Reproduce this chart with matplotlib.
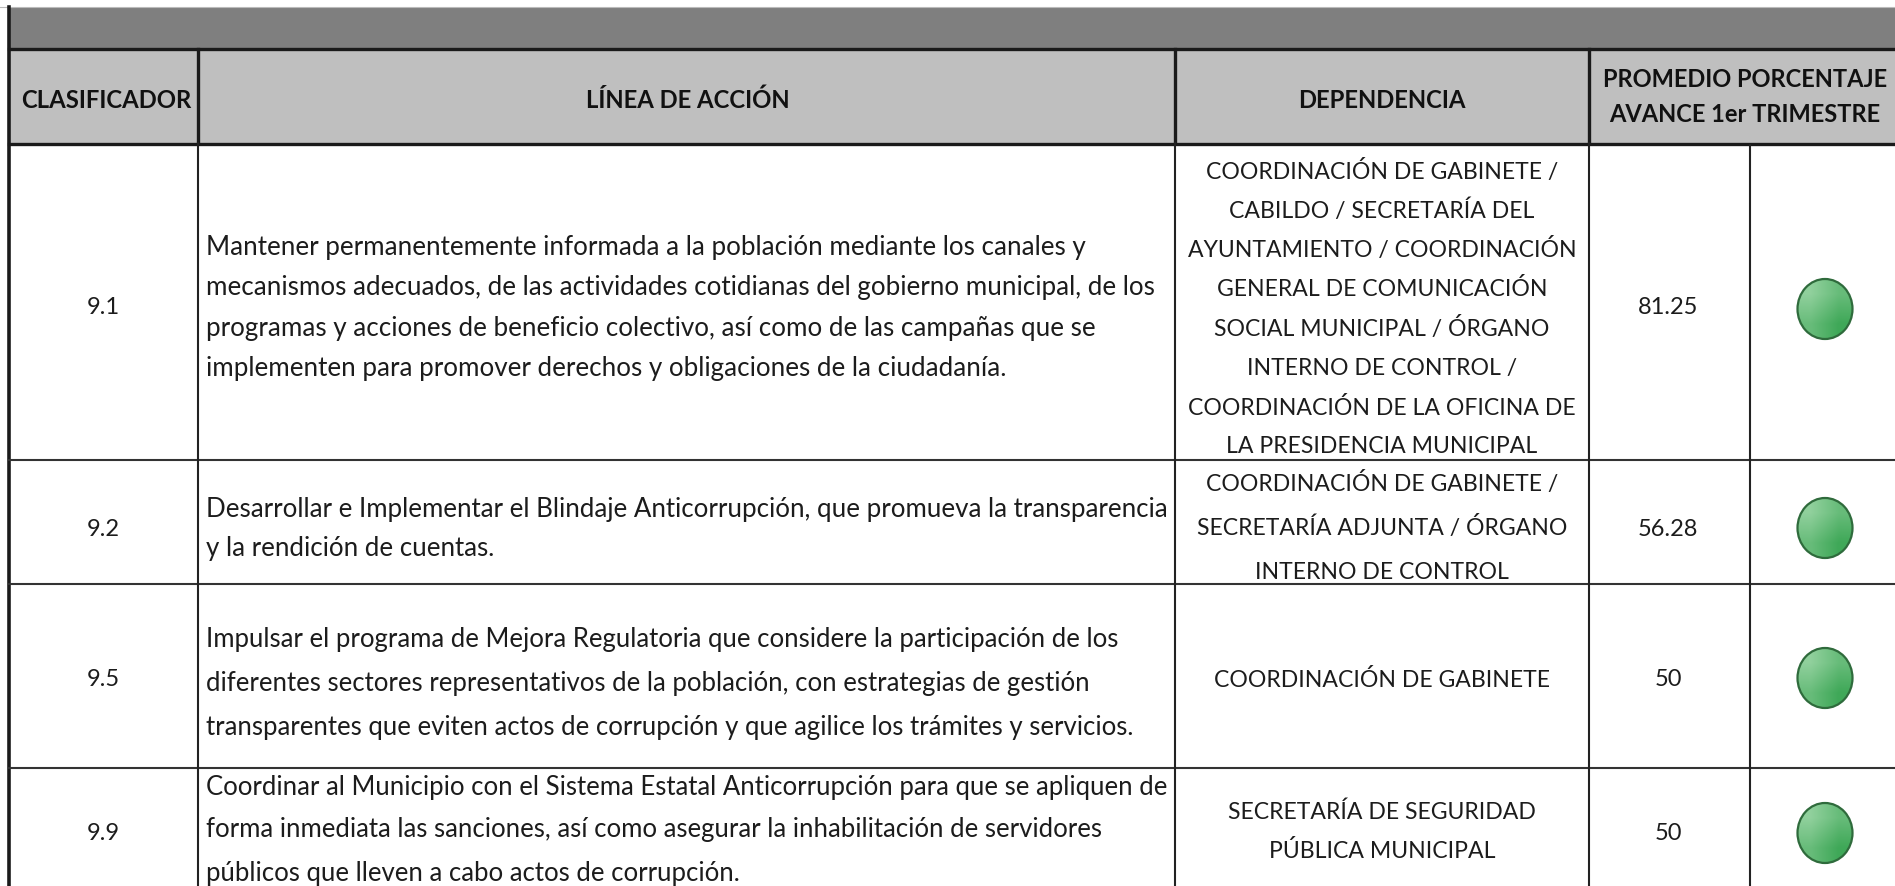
#!/usr/bin/env python3
import numpy as np
import matplotlib
matplotlib.use('Agg')
import matplotlib.pyplot as plt
from matplotlib.patches import Ellipse, Rectangle

plt.rcParams['font.family'] = ['Lato', 'DejaVu Sans']

headers = ['CLASIFICADOR', 'LÍNEA DE ACCIÓN', 'DEPENDENCIA',
           'PROMEDIO PORCENTAJE\nAVANCE 1er TRIMESTRE']
clasificador = ['9.1', '9.2', '9.5', '9.9']
promedio = ['81.25', '56.28', '50', '50']
lineas = [
    ['Mantener permanentemente informada a la población mediante los canales y',
     'mecanismos adecuados, de las actividades cotidianas del gobierno municipal, de los',
     'programas y acciones de beneficio colectivo, así como de las campañas que se',
     'implementen para promover derechos y obligaciones de la ciudadanía.'],
    ['Desarrollar e Implementar el Blindaje Anticorrupción, que promueva la transparencia',
     'y la rendición de cuentas.'],
    ['Impulsar el programa de Mejora Regulatoria que considere la participación de los',
     'diferentes sectores representativos de la población, con estrategias de gestión',
     'transparentes que eviten actos de corrupción y que agilice los trámites y servicios.'],
    ['Coordinar al Municipio con el Sistema Estatal Anticorrupción para que se apliquen de',
     'forma inmediata las sanciones, así como asegurar la inhabilitación de servidores',
     'públicos que lleven a cabo actos de corrupción.'],
]
dependencias = [
    ['COORDINACIÓN DE GABINETE /', 'CABILDO / SECRETARÍA DEL',
     'AYUNTAMIENTO / COORDINACIÓN', 'GENERAL DE COMUNICACIÓN',
     'SOCIAL MUNICIPAL / ÓRGANO', 'INTERNO DE CONTROL /',
     'COORDINACIÓN DE LA OFICINA DE', 'LA PRESIDENCIA MUNICIPAL'],
    ['COORDINACIÓN DE GABINETE /', 'SECRETARÍA ADJUNTA / ÓRGANO',
     'INTERNO DE CONTROL'],
    ['COORDINACIÓN DE GABINETE'],
    ['SECRETARÍA DE SEGURIDAD', 'PÚBLICA MUNICIPAL'],
]

# layout in pixels of the original screenshot
W, H = 1895, 886
col_x = [9, 198, 1175, 1589, 1750, 1895]
row_y = [144, 460, 584, 768, 886]
num_mid = [308, 530, 680, 833]
lin_mid = [308, 529, 683, 830]
lin_step = [40.5, 39, 44, 43]
dep_mid = [309, 528, 680, 832]
dep_step = [39.4, 44.7, 0, 39]
dot_y = [309, 528, 678, 833]
FS_LIN = [18.7, 18.6, 18.5, 18.5]
FS_DEP = 16.6
FS_NUM = 17.0
FS_HEAD = 17.2
TXT = '#1c1c1c'

fig = plt.figure(figsize=(W / 100, H / 100), dpi=100)
ax = fig.add_axes([0, 0, 1, 1])
ax.set_xlim(0, W)
ax.set_ylim(H, 0)
ax.axis('off')

# title band and header band
ax.add_patch(Rectangle((9, 7), W - 9, 41, fc='#7f7f7f', ec='none'))
ax.add_patch(Rectangle((9, 49), W - 9, 95, fc='#bfbfbf', ec='none'))

# lines
lc = '#1a1a1a'
ax.plot([0, W], [6.5, 6.5], color='#bbbbbb', lw=0.8)
ax.plot([9, 9], [7, H], color=lc, lw=2.6)
ax.plot([9, W], [48.5, 48.5], color=lc, lw=2.4)
ax.plot([9, W], [143.5, 143.5], color=lc, lw=2.4)
for y in row_y[1:-1]:
    ax.plot([9, W], [y, y], color='#333333', lw=1.5)
for x in col_x[1:4]:
    ax.plot([x, x], [49, 143], color=lc, lw=2.4)
    ax.plot([x, x], [143, H], color='#222222', lw=1.5)
ax.plot([1750, 1750], [145, H], color='#222222', lw=1.5)

# header text
hy = 100
for x, label in zip([106, 688, 1382], headers[:3]):
    ax.text(x, hy, label, ha='center', va='center',
            fontsize=FS_HEAD, fontweight='bold', color='#111111')
for i, line in enumerate(headers[3].split('\n')):
    ax.text(1745, 79 + i * 35, line, ha='center', va='center',
            fontsize=FS_HEAD - 0.2, fontweight='bold', color='#111111')

# gradient for the status dots
grad = np.array([[0.0, 0.5], [0.5, 1.0]])
cmap = matplotlib.colors.LinearSegmentedColormap.from_list('dot', ['#90d09c', '#3fa858'])

for i in range(4):
    ax.text(103, num_mid[i], clasificador[i], ha='center', va='center',
            fontsize=FS_NUM, color=TXT)
    n = len(lineas[i])
    for j, line in enumerate(lineas[i]):
        ax.text(206, lin_mid[i] + (j - (n - 1) / 2) * lin_step[i], line, ha='left',
                va='center', fontsize=FS_LIN[i], color=TXT)
    n = len(dependencias[i])
    for j, line in enumerate(dependencias[i]):
        ax.text(1382, dep_mid[i] + (j - (n - 1) / 2) * dep_step[i],
                line, ha='center', va='center', fontsize=FS_DEP, color=TXT)
    ax.text(1668, num_mid[i], promedio[i], ha='center', va='center',
            fontsize=FS_NUM, color=TXT)

    # status dot
    cy = dot_y[i]
    im = ax.imshow(grad, extent=(1797, 1853, cy + 30, cy - 30), cmap=cmap,
                   interpolation='bilinear', zorder=3, aspect='auto')
    el = Ellipse((1825, cy), 55, 60, fc='none', ec='#2f6b3c', lw=1.6, zorder=4)
    ax.add_patch(el)
    im.set_clip_path(el)

ax.set_xlim(0, W)
ax.set_ylim(H, 0)
fig.savefig('out.png', dpi=100)
